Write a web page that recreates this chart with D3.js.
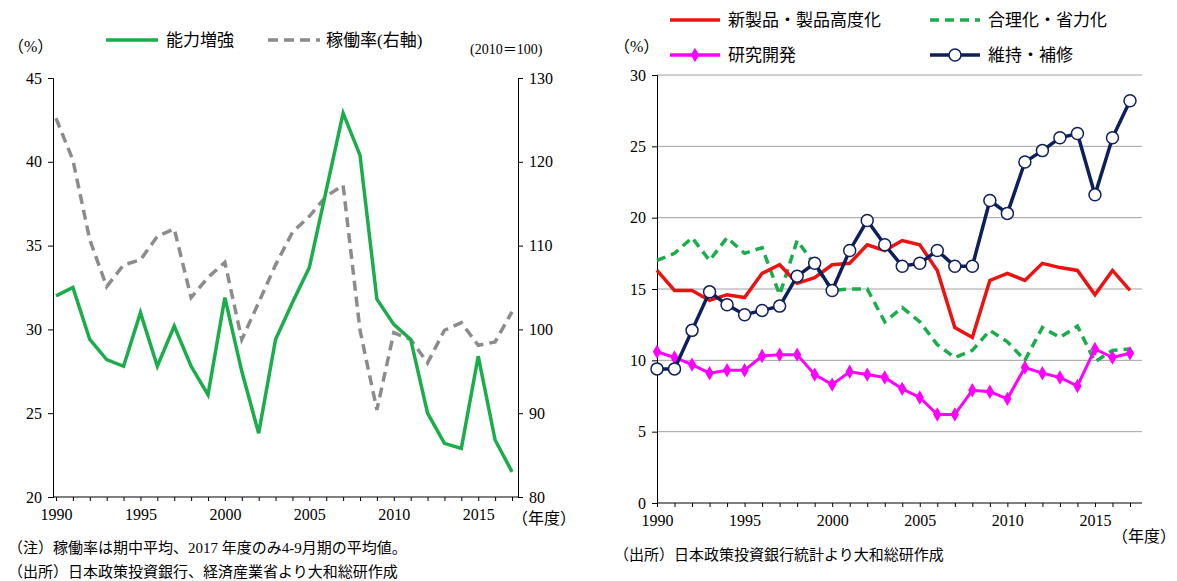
<!DOCTYPE html><html><head><meta charset="utf-8">
<script src="https://cdn.jsdelivr.net/npm/d3@7"></script>
<style>body{margin:0;background:#fff}text{font-family:"Liberation Serif","Noto Sans CJK JP",serif}</style></head><body>
<svg id="c" width="1177" height="581"></svg>
<script>
const years = d3.range(1990, 2018);
const capacity = [32.0,32.5,29.4,28.2,27.8,31.0,27.8,30.2,27.8,26.1,31.9,27.5,23.8,29.4,31.6,33.7,38.3,42.9,40.4,31.8,30.3,29.4,25.0,23.2,22.9,28.4,23.4,21.5];
const utilization = [125.2,120.2,110.7,105.1,107.7,108.3,111.1,112.0,103.8,106.2,108.0,98.8,103.2,107.7,111.6,113.5,115.9,117.2,99.9,90.4,99.6,98.8,96.0,99.9,100.8,98.1,98.5,102.1];
const newProducts = [16.3,14.9,14.9,14.2,14.6,14.4,16.1,16.7,15.4,15.8,16.7,16.8,18.1,17.7,18.4,18.1,16.3,12.3,11.6,15.6,16.1,15.6,16.8,16.5,16.3,14.6,16.3,14.9];
const rationalization = [17.0,17.5,18.6,17.0,18.6,17.5,17.9,14.6,18.4,16.7,14.9,15.0,15.0,12.7,13.7,12.7,11.1,10.2,10.7,12.1,11.3,10.0,12.3,11.6,12.4,9.9,10.7,10.8];
const research = [10.6,10.2,9.7,9.1,9.3,9.3,10.3,10.4,10.4,9.0,8.3,9.2,9.0,8.8,8.0,7.4,6.2,6.2,7.9,7.8,7.3,9.5,9.1,8.8,8.2,10.8,10.2,10.5];
const maintenance = [9.4,9.4,12.1,14.8,13.9,13.2,13.5,13.8,15.9,16.8,14.9,17.7,19.8,18.1,16.6,16.8,17.7,16.6,16.6,21.2,20.3,23.9,24.7,25.6,25.9,21.6,25.6,28.2];
const xTicks = [1990,1995,2000,2005,2010,2015];

const svg = d3.select("#c");
const fs = 16;
// LEFT
const xL = d3.scaleLinear().domain([1990,2017]).range([56,512]);
const yL = d3.scaleLinear().domain([20,45]).range([497,78]);
const yR = d3.scaleLinear().domain([80,130]).range([497,78]);
const gl = svg.append("g");
gl.append("g").attr("transform","translate(53,0)").call(d3.axisLeft(yL).tickValues([20,25,30,35,40,45]).tickSize(5).tickPadding(6));
gl.append("g").attr("transform","translate(518,0)").call(d3.axisRight(yR).tickValues([80,90,100,110,120,130]).tickSize(5).tickPadding(6));
gl.append("line").attr("x1",53).attr("x2",518).attr("y1",497).attr("y2",497).attr("stroke","#000");
gl.append("g").attr("transform","translate(0,497)").call(d3.axisBottom(xL).tickValues(years).tickSize(4).tickFormat("")).select(".domain").remove();
gl.append("g").attr("transform","translate(0,497)").call(d3.axisBottom(xL).tickValues(xTicks).tickSize(0).tickPadding(12).tickFormat(d3.format("d"))).select(".domain").remove();
gl.selectAll(".tick text").attr("font-size",fs).attr("fill","#000");
gl.selectAll(".domain,.tick line").attr("stroke","#000");
gl.append("path").attr("d",d3.line().x((d,i)=>xL(years[i])).y(d=>yR(d))(utilization)).attr("fill","none").attr("stroke","#8c8c8c").attr("stroke-width",3.5).attr("stroke-dasharray","10,6");
gl.append("path").attr("d",d3.line().x((d,i)=>xL(years[i])).y(d=>yL(d))(capacity)).attr("fill","none").attr("stroke","#1aae4a").attr("stroke-width",3.5);
gl.append("text").attr("x",8).attr("y",52).attr("font-size",fs).text("（%）");
gl.append("text").attr("x",470).attr("y",54).attr("font-size",14).text("(2010＝100)");
gl.append("text").attr("x",512).attr("y",524).attr("font-size",fs).text("（年度）");
gl.append("line").attr("x1",106).attr("x2",158).attr("y1",40).attr("y2",40).attr("stroke","#1aae4a").attr("stroke-width",3.5);
gl.append("text").attr("x",166).attr("y",46).attr("font-size",17).text("能力増強");
gl.append("line").attr("x1",268).attr("x2",320).attr("y1",40).attr("y2",40).attr("stroke","#8c8c8c").attr("stroke-width",3.5).attr("stroke-dasharray","10,6");
gl.append("text").attr("x",326).attr("y",46).attr("font-size",17).text("稼働率(右軸)");
gl.append("text").attr("x",8).attr("y",553).attr("font-size",15).text("（注）稼働率は期中平均、2017 年度のみ4-9月期の平均値。");
gl.append("text").attr("x",8).attr("y",577).attr("font-size",15).text("（出所）日本政策投資銀行、経済産業省より大和総研作成");

// RIGHT
const x2 = d3.scaleLinear().domain([1990,2017]).range([657,1130]);
const y2 = d3.scaleLinear().domain([0,30]).range([503,75]);
const gr = svg.append("g");
gr.append("g").selectAll("line").data(d3.range(5,31,5)).join("line").attr("x1",657).attr("x2",1142).attr("y1",d=>y2(d)).attr("y2",d=>y2(d)).attr("stroke","#a0a0a0");
gr.append("g").attr("transform","translate(657,0)").call(d3.axisLeft(y2).tickValues(d3.range(0,31,5)).tickSize(5).tickPadding(6));
gr.append("line").attr("x1",657).attr("x2",1142).attr("y1",503).attr("y2",503).attr("stroke","#000");
gr.append("g").attr("transform","translate(0,503)").call(d3.axisBottom(x2).tickValues(years).tickSize(4).tickFormat("")).select(".domain").remove();
gr.append("g").attr("transform","translate(0,503)").call(d3.axisBottom(x2).tickValues(xTicks).tickSize(0).tickPadding(12).tickFormat(d3.format("d"))).select(".domain").remove();
gr.selectAll(".tick text").attr("font-size",fs).attr("fill","#000");
gr.selectAll(".domain,.tick line").attr("stroke","#000");
const ln = d3.line().x((d,i)=>x2(years[i])).y(d=>y2(d));
gr.append("path").attr("d",ln(rationalization)).attr("fill","none").attr("stroke","#1aae4a").attr("stroke-width",3.5).attr("stroke-dasharray","9,6");
gr.append("path").attr("d",ln(newProducts)).attr("fill","none").attr("stroke","#ee1111").attr("stroke-width",3.5);
gr.append("path").attr("d",ln(research)).attr("fill","none").attr("stroke","#ff00ff").attr("stroke-width",3);
gr.append("g").selectAll("path").data(research).join("path").attr("d",d3.symbol(d3.symbolDiamond,60)).attr("transform",(d,i)=>`translate(${x2(years[i])},${y2(d)})`).attr("fill","#ff00ff");
gr.append("path").attr("d",ln(maintenance)).attr("fill","none").attr("stroke","#0d1f5c").attr("stroke-width",3.5);
gr.append("g").selectAll("circle").data(maintenance).join("circle").attr("cx",(d,i)=>x2(years[i])).attr("cy",d=>y2(d)).attr("r",6).attr("fill","#fff").attr("stroke","#0d1f5c").attr("stroke-width",1.5);
gr.append("text").attr("x",614).attr("y",52).attr("font-size",fs).text("（%）");
gr.append("text").attr("x",1112).attr("y",542).attr("font-size",fs).text("（年度）");
gr.append("text").attr("x",614).attr("y",560).attr("font-size",15).text("（出所）日本政策投資銀行統計より大和総研作成");
const leg=[["新製品・製品高度化",670,20,"#ee1111",null,null],["合理化・省力化",930,20,"#1aae4a","9,6",null],["研究開発",670,55,"#ff00ff",null,"d"],["維持・補修",930,55,"#0d1f5c",null,"c"]];
leg.forEach(([t,x,y,c,da,m])=>{
  gr.append("line").attr("x1",x).attr("x2",x+50).attr("y1",y).attr("y2",y).attr("stroke",c).attr("stroke-width",3.5).attr("stroke-dasharray",da);
  if(m==="d") gr.append("path").attr("d",d3.symbol(d3.symbolDiamond,60)).attr("transform",`translate(${x+25},${y})`).attr("fill",c);
  if(m==="c") gr.append("circle").attr("cx",x+25).attr("cy",y).attr("r",6).attr("fill","#fff").attr("stroke",c).attr("stroke-width",1.5);
  gr.append("text").attr("x",x+58).attr("y",y+6).attr("font-size",17).text(t);
});
</script></body></html>
